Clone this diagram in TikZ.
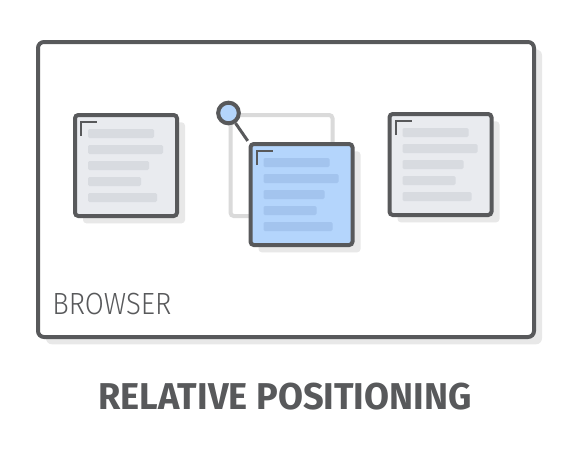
\documentclass[tikz,border=0pt]{standalone}
\usepackage{graphicx}
\usepackage{fontspec}
\setmainfont{Fira Sans}
\newfontfamily\browserfont{Fira Sans Light}
\usetikzlibrary{shadows}
\definecolor{edge}{HTML}{58595B}
\definecolor{pagefill}{HTML}{E9EBEF}
\definecolor{pagebar}{HTML}{D8DBE0}
\definecolor{bluefill}{HTML}{B4D5FC}
\definecolor{bluebar}{HTML}{A3C4EE}
\definecolor{shade}{HTML}{E8E8E8}
\definecolor{ghost}{HTML}{DADADA}
\newcommand{\PageBars}[2]{%
	\foreach \w [count=\i] in {66,75,61,53,69}
		\fill[#2,rounded corners=1pt] ([shift={(15,{16*\i})}]#1.north west) rectangle ++(\w,9);
	\draw[edge,line width=1.5pt] ([shift={(8,23)}]#1.north west) |- ++(16,-14);
}

\begin{document}
\begin{tikzpicture}[x=0.75pt,y=-0.75pt,
		shadowed/.style={drop shadow={shadow xshift=6pt,shadow yshift=-5.5pt,fill=shade,opacity=1}},
		frame/.style={draw=edge,line width=3pt,fill=white,rounded corners=4.5pt,inner sep=0pt,
			minimum width=372pt,minimum height=221.25pt,shadowed},
		page/.style={draw=edge,line width=3pt,fill=pagefill,rounded corners=2.5pt,inner sep=0pt,
			minimum width=76.5pt,minimum height=75.75pt,shadowed},
		ghostpage/.style={draw=ghost,line width=3pt,rounded corners=2.5pt,inner sep=0pt,
			minimum width=76.5pt,minimum height=75.75pt},
		handle/.style={circle,draw=edge,line width=3pt,fill=bluefill,inner sep=0pt,minimum size=15.5pt}]
	\useasboundingbox (0,0) rectangle (576,458);
	\node[frame] (browser) at (286,189.5) {};
	\node[page] (left) at (126,165.5) {};
	\PageBars{left}{pagebar}
	\node[page] (right) at (440.5,164.5) {};
	\PageBars{right}{pagebar}
	\node[ghostpage] (old) at (281.5,165.5) {};
	\node[page,fill=bluefill] (moved) at (301.5,194.5) {};
	\PageBars{moved}{bluebar}
	\node[handle] (pin) at (old.north west) {};
	\draw[edge,line width=2.25pt,shorten >=1pt] (pin) -- (moved.north west);
	\node[anchor=base west,inner sep=0pt,text=edge,font=\browserfont\fontsize{23}{23}\selectfont] (label) at (52,314) {\scalebox{0.9}[1]{BROWSER}};
	\node[anchor=base,inner sep=0pt,text=edge,font=\bfseries\fontsize{28}{28}\selectfont] (title) at (285,409) {\scalebox{0.97}[1]{RELATIVE POSITIONING}};
\end{tikzpicture}
\end{document}
